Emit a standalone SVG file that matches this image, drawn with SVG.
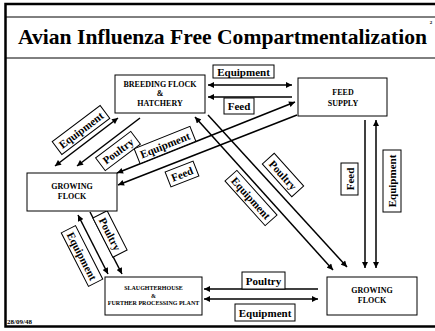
<svg xmlns="http://www.w3.org/2000/svg" width="435" height="331" viewBox="0 0 435 331">
<style>
.frame{fill:none;stroke:#000;stroke-width:2.5}
.rule{stroke:#000;stroke-width:1}
.node rect{fill:#fff;stroke:#000;stroke-width:1}
.nt{font-family:"Liberation Serif","Times New Roman",serif;font-weight:bold;text-anchor:middle;fill:#000}
.conn line{stroke:#000;stroke-width:1.5}
.lbl rect{fill:#fff;stroke:#000;stroke-width:1}
.lbl text{font-family:"Liberation Serif","Times New Roman",serif;font-weight:bold;font-size:11px;text-anchor:middle;fill:#000}
</style>
<defs>
<marker id="ah" viewBox="0 0 10 10" refX="10" refY="5" markerWidth="7" markerHeight="6" orient="auto-start-reverse" markerUnits="userSpaceOnUse"><path d="M0,0 L10,5 L0,10 z" fill="#000"/></marker>
</defs>
<rect width="435" height="331" fill="#fff"/>
<path class="frame" d="M437,4 H5.5 V326.5 H437"/>
<line class="rule" x1="5" y1="17" x2="435" y2="17"/>
<line class="rule" x1="5" y1="58" x2="435" y2="58"/>
<text x="222.5" y="43.5" class="nt" font-size="21" textLength="409" lengthAdjust="spacingAndGlyphs">Avian Influenza Free Compartmentalization</text>
<text x="431" y="24" class="nt" font-size="5">2</text>
<text x="7" y="324" font-family="Liberation Serif, serif" font-weight="bold" font-size="7">28/09/48</text>

<g id="connectors" class="conn">
<line x1="208" y1="85" x2="292" y2="85" marker-start="url(#ah)" marker-end="url(#ah)"/>
<line x1="292" y1="97" x2="208" y2="97" marker-end="url(#ah)"/>
<line x1="295" y1="102" x2="117" y2="173" marker-start="url(#ah)" marker-end="url(#ah)"/>
<line x1="297" y1="115" x2="118" y2="185" marker-end="url(#ah)"/>
<line x1="118" y1="118" x2="55" y2="166" marker-start="url(#ah)" marker-end="url(#ah)"/>
<line x1="140" y1="118" x2="77" y2="166" marker-end="url(#ah)"/>
<line x1="195" y1="117" x2="333" y2="270" marker-start="url(#ah)" marker-end="url(#ah)"/>
<line x1="208" y1="115" x2="347" y2="267" marker-end="url(#ah)"/>
<line x1="365" y1="120" x2="365" y2="268" marker-end="url(#ah)"/>
<line x1="376" y1="120" x2="376" y2="268" marker-start="url(#ah)" marker-end="url(#ah)"/>
<line x1="318" y1="289" x2="204" y2="289" marker-end="url(#ah)"/>
<line x1="318" y1="299" x2="204" y2="299" marker-start="url(#ah)" marker-end="url(#ah)"/>
<line x1="78" y1="215" x2="108" y2="274" marker-start="url(#ah)" marker-end="url(#ah)"/>
<line x1="90" y1="212" x2="122" y2="274" marker-end="url(#ah)"/>
</g>

<g id="labels" class="lbl">
<g transform="translate(243.5,71.5)"><rect x="-30.5" y="-6.5" width="61" height="13"/><text y="4">Equipment</text></g>
<g transform="translate(239,106)"><rect x="-15" y="-8" width="30" height="16"/><text y="4">Feed</text></g>
<g transform="translate(165,145) rotate(-21.7)"><rect x="-30" y="-8" width="60" height="16"/><text y="4">Equipment</text></g>
<g transform="translate(182,174) rotate(-21.4)"><rect x="-15" y="-8" width="30" height="16"/><text y="4">Feed</text></g>
<g transform="translate(81,130) rotate(-37)"><rect x="-30" y="-8" width="60" height="16"/><text y="4">Equipment</text></g>
<g transform="translate(118,151) rotate(-37)"><rect x="-22" y="-8" width="44" height="16"/><text y="4">Poultry</text></g>
<g transform="translate(251,198) rotate(48)"><rect x="-30" y="-8" width="60" height="16"/><text y="4">Equipment</text></g>
<g transform="translate(283,175) rotate(48)"><rect x="-22" y="-8" width="44" height="16"/><text y="4">Poultry</text></g>
<g transform="translate(349.5,179) rotate(-90)"><rect x="-16" y="-8.5" width="32" height="17"/><text y="4">Feed</text></g>
<g transform="translate(392,181) rotate(-90)"><rect x="-31" y="-9" width="62" height="18"/><text y="4">Equipment</text></g>
<g transform="translate(82,256) rotate(63)"><rect x="-30" y="-8" width="60" height="16"/><text y="4">Equipment</text></g>
<g transform="translate(110,234) rotate(63)"><rect x="-22" y="-8" width="44" height="16"/><text y="4">Poultry</text></g>
<g transform="translate(263.5,280.5)"><rect x="-21.5" y="-8.5" width="43" height="17"/><text y="4">Poultry</text></g>
<g transform="translate(265,312.5)"><rect x="-30" y="-8.5" width="60" height="17"/><text y="4">Equipment</text></g>
</g>

<g id="breeding" class="node">
<rect x="115" y="75" width="90" height="38"/>
<text class="nt" font-size="8" x="160" y="87">BREEDING FLOCK</text>
<text class="nt" font-size="8" x="160" y="96">&amp;</text>
<text class="nt" font-size="8" x="160" y="106">HATCHERY</text>
</g>
<g id="feedsupply" class="node">
<rect x="298" y="78" width="89" height="38"/>
<text class="nt" font-size="8" x="343" y="95">FEED</text>
<text class="nt" font-size="8" x="343" y="106">SUPPLY</text>
</g>
<g id="growing1" class="node">
<rect x="27" y="173" width="90" height="38"/>
<text class="nt" font-size="8" x="72" y="189">GROWING</text>
<text class="nt" font-size="8" x="72" y="199">FLOCK</text>
</g>
<g id="slaughter" class="node">
<rect x="105" y="277" width="97" height="38"/>
<text class="nt" font-size="6" x="153.5" y="290">SLAUGHTERHOUSE</text>
<text class="nt" font-size="6" x="153.5" y="298">&amp;</text>
<text class="nt" font-size="6" x="153.5" y="305">FURTHER PROCESSING PLANT</text>
</g>
<g id="growing2" class="node">
<rect x="327" y="277" width="90" height="38"/>
<text class="nt" font-size="8" x="372" y="293">GROWING</text>
<text class="nt" font-size="8" x="372" y="303">FLOCK</text>
</g>
</svg>
